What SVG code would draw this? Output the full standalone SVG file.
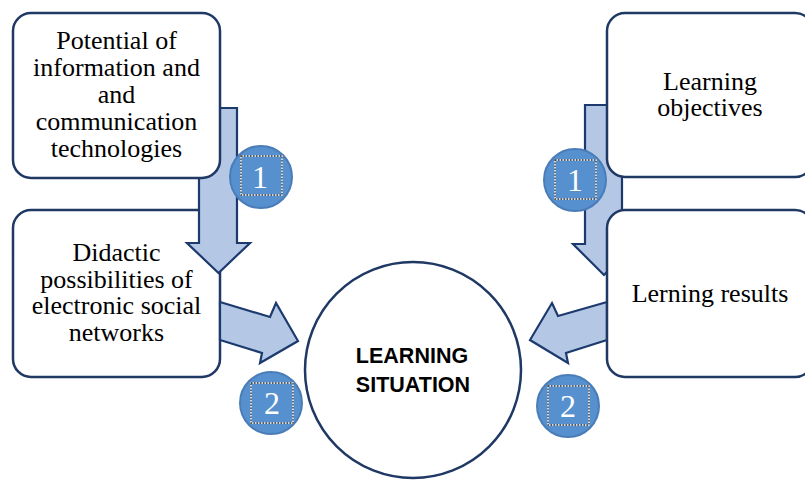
<svg xmlns="http://www.w3.org/2000/svg" width="805" height="480" viewBox="0 0 805 480">
<style>
.box{fill:#fff;stroke:#1f3864;stroke-width:2.5}
.t{font-family:"Liberation Serif","Times New Roman",serif;font-size:26px;fill:#000;text-anchor:middle}
.arr{fill:#b4c7e4;stroke:#1c3a6e;stroke-width:2.2;stroke-linejoin:miter}
.badge{fill:#5690ce;stroke:#4a7db8;stroke-width:2}
.sq{fill:none;stroke:#333;stroke-width:1.3;stroke-dasharray:1.5 1.5}
.sqw{fill:none;stroke:#fff;stroke-width:1.3}
.num{font-family:"Liberation Serif","Times New Roman",serif;font-size:32px;fill:#fff;text-anchor:middle}
.c{font-family:"Liberation Sans",Arial,sans-serif;font-weight:bold;font-size:21.5px;fill:#000;text-anchor:middle}
</style>
<rect width="805" height="480" fill="#fff"/>
<g id="node-didactic">
<rect class="box" x="13" y="210" width="207" height="167" rx="18"/>
<text class="t" x="116.5" y="261">Didactic</text>
<text class="t" x="116.5" y="287.5">possibilities of</text>
<text class="t" x="116.5" y="314">electronic social</text>
<text class="t" x="116.5" y="340.5">networks</text>
</g>
<g id="connectors">
<polygon class="arr" points="199,108 237,108 237,243 250,243 218.5,273 187,243 199,243"/>
<polygon class="arr" points="585,105 622,105 622,244 634,244 604,275 573,244 585,244"/>
<polygon class="arr" points="220,302 270,317 276,303 298,341 260,363 262,353 220,340"/>
<polygon class="arr" points="607,302 558,316 552,303 530,340 568,363 566,353 607,340"/>
</g>
<g id="node-potential">
<rect class="box" x="13" y="13" width="207" height="165" rx="18"/>
<text class="t" x="116.5" y="49">Potential of</text>
<text class="t" x="116.5" y="76">information and</text>
<text class="t" x="116.5" y="103">and</text>
<text class="t" x="116.5" y="130">communication</text>
<text class="t" x="116.5" y="157">technologies</text>
</g>
<g id="node-objectives">
<rect class="box" x="607" y="13" width="206" height="164" rx="18"/>
<text class="t" x="710" y="90">Learning</text>
<text class="t" x="710" y="116">objectives</text>
</g>
<g id="node-results">
<rect class="box" x="607" y="210" width="206" height="167" rx="18"/>
<text class="t" x="710" y="302">Lerning results</text>
</g>
<g id="node-situation">
<circle class="box" cx="413" cy="370" r="108"/>
<text class="c" x="412" y="363">LEARNING</text>
<text class="c" x="413" y="392">SITUATION</text>
</g>
<g id="badge-left-1">
<circle class="badge" cx="261" cy="177" r="31"/>
<rect class="sqw" x="241" y="156" width="41" height="39"/>
<rect class="sq" x="241" y="156" width="41" height="39"/>
<text class="num" x="260" y="188">1</text>
</g>
<g id="badge-left-2">
<circle class="badge" cx="271" cy="403" r="31"/>
<rect class="sqw" x="251" y="383" width="42" height="40"/>
<rect class="sq" x="251" y="383" width="42" height="40"/>
<text class="num" x="272" y="414">2</text>
</g>
<g id="badge-right-1">
<circle class="badge" cx="575" cy="180" r="31"/>
<rect class="sqw" x="555" y="160" width="41" height="39"/>
<rect class="sq" x="555" y="160" width="41" height="39"/>
<text class="num" x="575" y="191">1</text>
</g>
<g id="badge-right-2">
<circle class="badge" cx="568" cy="406" r="31"/>
<rect class="sqw" x="548" y="386" width="41" height="39"/>
<rect class="sq" x="548" y="386" width="41" height="39"/>
<text class="num" x="568" y="417">2</text>
</g>
</svg>
